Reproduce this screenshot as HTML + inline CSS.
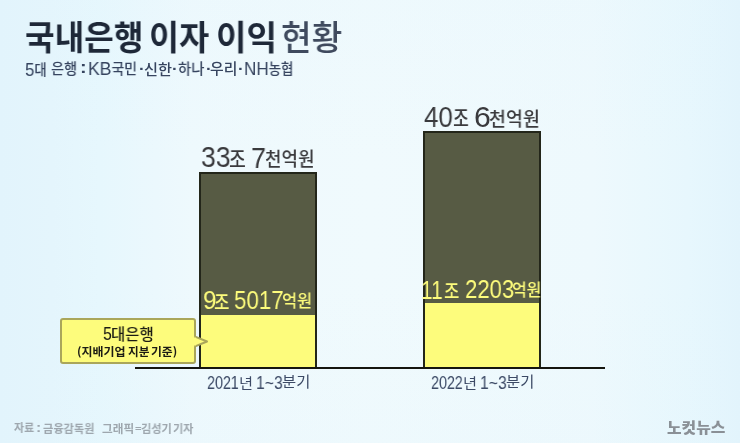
<!DOCTYPE html>
<html lang="ko">
<head>
<meta charset="utf-8">
<title>국내은행 이자 이익 현황</title>
<style>
html,body{margin:0;padding:0;}
body{width:740px;height:443px;overflow:hidden;position:relative;
  background:linear-gradient(180deg,rgba(226,244,252,0.15) 0%,rgba(226,244,252,0) 35%,rgba(226,244,252,0) 65%,rgba(226,244,252,0.15) 100%),linear-gradient(90deg,#e2f4fc 0%,#e4f5fc 7%,#e6f7fd 13.5%,#ebf8fd 21%,#eef9fd 26%,#f0fafd 50%,#eef9fd 80%,#eaf8fd 87%,#e7f7fd 93%,#e2f4fc 100%);}
.t{position:absolute;white-space:nowrap;line-height:1;transform-origin:0 0;will-change:transform;}
.bar{position:absolute;box-sizing:border-box;border:2px solid #23261a;background:#575b44;}
.bar .y{position:absolute;left:0;right:0;bottom:0;background:#fdfc7c;}
#axis{position:absolute;left:135px;top:367px;width:470px;height:2px;background:#15150f;}
#callout{position:absolute;left:60px;top:318px;width:136px;height:46px;box-sizing:border-box;border:2px solid #aaa65a;border-radius:3px;background:#fdfc7c;}
</style>
</head>
<body>
<div class="bar" style="left:199px;top:172px;width:118px;height:197px;"><div class="y" style="top:141px;"></div></div>
<div class="bar" style="left:423px;top:131px;width:118px;height:238px;"><div class="y" style="top:170px;"></div></div>
<div id="axis"></div>
<div id="callout"></div>
<svg style="position:absolute;left:0;top:0" width="740" height="443">
<path d="M194.5 336.3 L207 341.5 L194.5 346.7" fill="#fdfc7c" stroke="#aaa65a" stroke-width="2" stroke-linejoin="round"/>
<rect x="192" y="337.6" width="4" height="7.8" fill="#fdfc7c"/>
</svg>
<div class="t" style="left:25.01px;top:18.11px;font-size:34.41px;color:#1e2838;transform:scaleX(0.9352);"><span style="font-family:'Noto Sans CJK KR',sans-serif;font-weight:700">국내은행</span></div>
<div class="t" style="left:149.22px;top:19.37px;font-size:33.87px;color:#1e2838;transform:scaleX(0.9639);"><span style="font-family:'Noto Sans CJK KR',sans-serif;font-weight:700">이자</span></div>
<div class="t" style="left:215.62px;top:19.37px;font-size:33.87px;color:#1e2838;transform:scaleX(0.977);"><span style="font-family:'Noto Sans CJK KR',sans-serif;font-weight:700">이익</span></div>
<div class="t" style="left:281.38px;top:17.89px;font-size:34.49px;color:#3f4a5e;transform:scaleX(0.9649);"><span style="font-family:'Noto Sans CJK KR',sans-serif;font-weight:500">현황</span></div>
<div class="t" style="left:25.49px;top:60.85px;font-size:14.67px;color:#36445f;transform:scaleX(0.9148);"><span style="font-family:'Liberation Sans','Noto Sans CJK KR',sans-serif;font-size:1.26em;vertical-align:-0.06em">5</span><span style="font-family:'Noto Sans CJK KR',sans-serif;font-weight:500">대</span></div>
<div class="t" style="left:51.26px;top:60.27px;font-size:15.27px;color:#36445f;transform:scaleX(0.932);"><span style="font-family:'Noto Sans CJK KR',sans-serif;font-weight:500">은행</span></div>
<div class="t" style="left:80.2px;top:60.49px;font-size:16.67px;color:#36445f;transform:scaleX(1.2);"><span style="font-family:'Liberation Sans','Noto Sans CJK KR',sans-serif;font-size:1em;font-weight:700">:</span></div>
<div class="t" style="left:88.13px;top:60.22px;font-size:14.67px;color:#36445f;transform:scaleX(0.9504);"><span style="font-family:'Liberation Sans','Noto Sans CJK KR',sans-serif;font-size:1.26em;vertical-align:-0.06em">KB</span><span style="font-family:'Noto Sans CJK KR',sans-serif;font-weight:500">국민</span></div>
<div class="t" style="left:144.27px;top:61.12px;font-size:15.22px;color:#36445f;transform:scaleX(0.9891);"><span style="font-family:'Noto Sans CJK KR',sans-serif;font-weight:500">신한</span></div>
<div class="t" style="left:177.85px;top:61.16px;font-size:14.89px;color:#36445f;transform:scaleX(0.9637);"><span style="font-family:'Noto Sans CJK KR',sans-serif;font-weight:500">하나</span></div>
<div class="t" style="left:210.28px;top:61.16px;font-size:14.89px;color:#36445f;transform:scaleX(0.9863);"><span style="font-family:'Noto Sans CJK KR',sans-serif;font-weight:500">우리</span></div>
<div class="t" style="left:244.0px;top:60.45px;font-size:14.81px;color:#36445f;transform:scaleX(0.9127);"><span style="font-family:'Liberation Sans','Noto Sans CJK KR',sans-serif;font-size:1.26em;vertical-align:-0.06em">NH</span><span style="font-family:'Noto Sans CJK KR',sans-serif;font-weight:500">농협</span></div>
<div class="t" style="left:138.66px;top:61.11px;font-size:15.33px;color:#36445f;transform:scaleX(1.118);"><span style="font-family:'Liberation Sans','Noto Sans CJK KR',sans-serif;font-size:1em;font-weight:700">·</span></div>
<div class="t" style="left:172.22px;top:61.11px;font-size:15.33px;color:#36445f;transform:scaleX(1.118);"><span style="font-family:'Liberation Sans','Noto Sans CJK KR',sans-serif;font-size:1em;font-weight:700">·</span></div>
<div class="t" style="left:205.54px;top:61.11px;font-size:15.33px;color:#36445f;transform:scaleX(1.118);"><span style="font-family:'Liberation Sans','Noto Sans CJK KR',sans-serif;font-size:1em;font-weight:700">·</span></div>
<div class="t" style="left:238.16px;top:61.11px;font-size:15.33px;color:#36445f;transform:scaleX(1.118);"><span style="font-family:'Liberation Sans','Noto Sans CJK KR',sans-serif;font-size:1em;font-weight:700">·</span></div>
<div class="t" style="left:200.56px;top:142.37px;font-size:30.14px;color:#3a3a3d;transform:scaleX(0.8826);"><span style="font-family:'Liberation Sans','Noto Sans CJK KR',sans-serif;font-size:1.0em">33</span></div>
<div class="t" style="left:229.31px;top:147.0px;font-size:21.79px;color:#3a3a3d;transform:scaleX(0.8348);"><span style="font-family:'Noto Sans CJK KR',sans-serif;font-weight:500">조</span></div>
<div class="t" style="left:250.69px;top:142.5px;font-size:30.29px;color:#3a3a3d;transform:scaleX(0.8925);"><span style="font-family:'Liberation Sans','Noto Sans CJK KR',sans-serif;font-size:1.0em">7</span></div>
<div class="t" style="left:265.19px;top:148.55px;font-size:19.13px;color:#3a3a3d;transform:scaleX(0.9377);"><span style="font-family:'Noto Sans CJK KR',sans-serif;font-weight:500">천억원</span></div>
<div class="t" style="left:424.19px;top:102.28px;font-size:29.44px;color:#3a3a3d;transform:scaleX(0.8833);"><span style="font-family:'Liberation Sans','Noto Sans CJK KR',sans-serif;font-size:1.0em">40</span></div>
<div class="t" style="left:453.37px;top:106.39px;font-size:21.52px;color:#3a3a3d;transform:scaleX(0.8007);"><span style="font-family:'Noto Sans CJK KR',sans-serif;font-weight:500">조</span></div>
<div class="t" style="left:473.99px;top:102.45px;font-size:30.28px;color:#3a3a3d;transform:scaleX(0.9835);"><span style="font-family:'Liberation Sans','Noto Sans CJK KR',sans-serif;font-size:1.0em">6</span></div>
<div class="t" style="left:489.13px;top:108.7px;font-size:19.24px;color:#3a3a3d;transform:scaleX(0.9562);"><span style="font-family:'Noto Sans CJK KR',sans-serif;font-weight:500">천억원</span></div>
<div class="t" style="left:202.78px;top:287.48px;font-size:26.34px;color:#fdfc7c;transform:scaleX(0.9227);"><span style="font-family:'Liberation Sans','Noto Sans CJK KR',sans-serif;font-size:1.0em">9</span></div>
<div class="t" style="left:214.16px;top:291.54px;font-size:20.14px;color:#fdfc7c;transform:scaleX(0.8316);"><span style="font-family:'Noto Sans CJK KR',sans-serif;font-weight:500">조</span></div>
<div class="t" style="left:234.09px;top:288.32px;font-size:25.63px;color:#fdfc7c;transform:scaleX(0.8716);"><span style="font-family:'Liberation Sans','Noto Sans CJK KR',sans-serif;font-size:1.0em">5017</span></div>
<div class="t" style="left:282.28px;top:291.18px;font-size:17.17px;color:#fdfc7c;transform:scaleX(0.9538);"><span style="font-family:'Noto Sans CJK KR',sans-serif;font-weight:500">억원</span></div>
<div class="t" style="left:420.79px;top:276.57px;font-size:26.38px;color:#fdfc7c;transform:scaleX(0.7914);"><span style="font-family:'Liberation Sans','Noto Sans CJK KR',sans-serif;font-size:1.0em">11</span></div>
<div class="t" style="left:444.35px;top:280.54px;font-size:20.14px;color:#fdfc7c;transform:scaleX(0.8256);"><span style="font-family:'Noto Sans CJK KR',sans-serif;font-weight:500">조</span></div>
<div class="t" style="left:464.58px;top:276.48px;font-size:26.34px;color:#fdfc7c;transform:scaleX(0.8396);"><span style="font-family:'Liberation Sans','Noto Sans CJK KR',sans-serif;font-size:1.0em">2203</span></div>
<div class="t" style="left:512.16px;top:281.38px;font-size:16.96px;color:#fdfc7c;transform:scaleX(0.945);"><span style="font-family:'Noto Sans CJK KR',sans-serif;font-weight:500">억원</span></div>
<div class="t" style="left:207.02px;top:374.79px;font-size:17.46px;color:#3c4a66;transform:scaleX(0.8191);"><span style="font-family:'Liberation Sans','Noto Sans CJK KR',sans-serif;font-size:1.0em">2021</span></div>
<div class="t" style="left:238.63px;top:374.94px;font-size:14.12px;color:#3c4a66;transform:scaleX(1.0793);"><span style="font-family:'Noto Sans CJK KR',sans-serif">년</span></div>
<div class="t" style="left:256.36px;top:374.79px;font-size:17.46px;color:#3c4a66;transform:scaleX(0.9016);"><span style="font-family:'Liberation Sans','Noto Sans CJK KR',sans-serif;font-size:1.0em">1~3</span></div>
<div class="t" style="left:282.33px;top:373.19px;font-size:15.16px;color:#3c4a66;transform:scaleX(1.013);"><span style="font-family:'Noto Sans CJK KR',sans-serif">분기</span></div>
<div class="t" style="left:431.02px;top:374.79px;font-size:17.46px;color:#3c4a66;transform:scaleX(0.8191);"><span style="font-family:'Liberation Sans','Noto Sans CJK KR',sans-serif;font-size:1.0em">2022</span></div>
<div class="t" style="left:462.63px;top:374.94px;font-size:14.12px;color:#3c4a66;transform:scaleX(1.0793);"><span style="font-family:'Noto Sans CJK KR',sans-serif">년</span></div>
<div class="t" style="left:480.36px;top:374.79px;font-size:17.46px;color:#3c4a66;transform:scaleX(0.9016);"><span style="font-family:'Liberation Sans','Noto Sans CJK KR',sans-serif;font-size:1.0em">1~3</span></div>
<div class="t" style="left:506.33px;top:373.19px;font-size:15.16px;color:#3c4a66;transform:scaleX(1.013);"><span style="font-family:'Noto Sans CJK KR',sans-serif">분기</span></div>
<div class="t" style="left:102.89px;top:325.23px;font-size:18.0px;color:#1c1c14;transform:scaleX(0.8772);"><span style="font-family:'Liberation Sans','Noto Sans CJK KR',sans-serif;font-size:1.0em">5</span></div>
<div class="t" style="left:110.78px;top:326.31px;font-size:15.87px;color:#1c1c14;transform:scaleX(0.9756);"><span style="font-family:'Noto Sans CJK KR',sans-serif;font-weight:500">대은행</span></div>
<div class="t" style="left:76.6px;top:345.92px;font-size:11.35px;color:#1c1c14;transform:scaleX(1.0567);"><span style="font-family:'Noto Sans CJK KR',sans-serif;font-weight:700">(지배기업</span></div>
<div class="t" style="left:128.35px;top:345.62px;font-size:11.29px;color:#1c1c14;transform:scaleX(1.0338);"><span style="font-family:'Noto Sans CJK KR',sans-serif;font-weight:700">지분</span></div>
<div class="t" style="left:151.04px;top:345.92px;font-size:11.35px;color:#1c1c14;transform:scaleX(1.0416);"><span style="font-family:'Noto Sans CJK KR',sans-serif;font-weight:700">기준)</span></div>
<div class="t" style="left:13.9px;top:422.44px;font-size:11.4px;color:#9ea7ae;transform:scaleX(0.9612);"><span style="font-family:'Noto Sans CJK KR',sans-serif;font-weight:700">자료</span></div>
<div class="t" style="left:36.41px;top:421.65px;font-size:12.16px;color:#9ea7ae;transform:scaleX(1.2926);"><span style="font-family:'Liberation Sans','Noto Sans CJK KR',sans-serif;font-size:1em;font-weight:700">:</span></div>
<div class="t" style="left:42.89px;top:422.76px;font-size:11.34px;color:#9ea7ae;transform:scaleX(0.9884);"><span style="font-family:'Noto Sans CJK KR',sans-serif;font-weight:700">금융감독원</span></div>
<div class="t" style="left:102.39px;top:422.58px;font-size:11.61px;color:#9ea7ae;transform:scaleX(1.003);"><span style="font-family:'Noto Sans CJK KR',sans-serif;font-weight:700">그래픽</span></div>
<div class="t" style="left:134.77px;top:424.11px;font-size:9.74px;color:#9ea7ae;transform:scaleX(1.1592);"><span style="font-family:'Liberation Sans','Noto Sans CJK KR',sans-serif;font-size:1em;font-weight:700">=</span></div>
<div class="t" style="left:140.8px;top:423.02px;font-size:11.61px;color:#9ea7ae;transform:scaleX(0.9619);"><span style="font-family:'Noto Sans CJK KR',sans-serif;font-weight:700">김성기</span></div>
<div class="t" style="left:173.32px;top:423.02px;font-size:11.61px;color:#9ea7ae;transform:scaleX(0.9509);"><span style="font-family:'Noto Sans CJK KR',sans-serif;font-weight:700">기자</span></div>
<div class="t" style="left:667.16px;top:420.37px;font-size:14.57px;color:#8a9096;transform:scaleX(1.0891);"><span style="font-family:'Noto Sans CJK KR',sans-serif;font-weight:900">노컷뉴스</span></div>
</body>
</html>
